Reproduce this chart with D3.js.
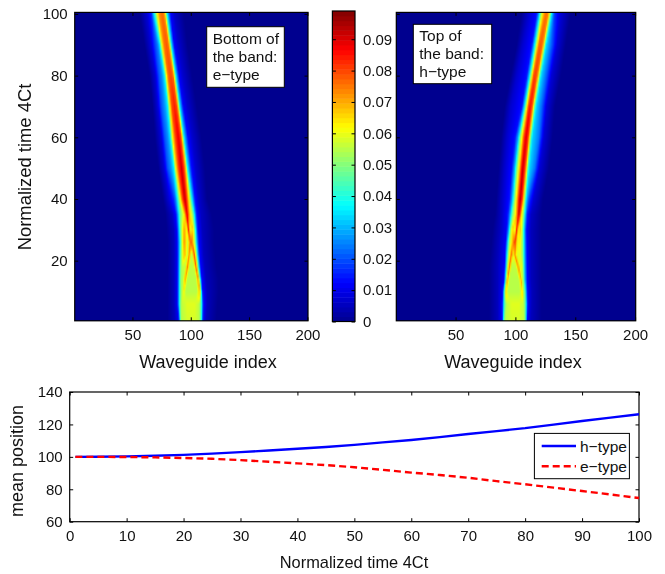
<!DOCTYPE html>
<html>
<head>
<meta charset="utf-8">
<script src="https://cdn.jsdelivr.net/npm/d3@7"></script>
<style>
  body { margin: 0; background: #fff; }
  #chart { position: relative; width: 665px; height: 574px; overflow: hidden; }
  #chart canvas, #chart svg { position: absolute; left: 0; top: 0; }
  text { font-family: "Liberation Sans", Arial, sans-serif; fill: #111; }
  .axis text { font-size: 15px; }
  .axis path { display: none; }
  .axis line { stroke: #000; }
  .box { fill: none; stroke: #000; stroke-width: 1.2; }
  .label { font-size: 18px; }
  .note { font-size: 15.5px; }
</style>
</head>
<body>
<div id="chart"></div>
<script>
// rows of the heat maps: for each time the same 16 features
// across the beam (index = where the feature sits, value = colour value there)
var rowTimes = [1, 6, 10, 14, 18, 22, 26, 30, 35, 40, 50, 60, 70, 80, 90, 100];

var eIndex = [
  [80, 86, 89.5, 90.3, 91, 91.6, 92, 92.5, 97, 103, 107, 108.6, 109.5, 110.4, 113, 122],
  [80, 85.5, 88.4, 89.6, 90.7, 91.5, 92, 92.7, 97, 103, 106.8, 108.6, 109.6, 110.7, 114, 123],
  [80, 85.5, 88.4, 89.6, 90.8, 92, 92.6, 93.7, 95.6, 105.2, 107.5, 108.5, 109.2, 110.2, 114, 124],
  [80, 85.5, 88.4, 89.7, 91, 92, 93, 95, 96.9, 104.4, 106.4, 107.5, 108.3, 109.4, 113, 124],
  [80, 85.5, 88.4, 89.8, 91.2, 92.5, 95, 97, 99, 102.5, 104.5, 106, 107.1, 108.3, 112, 122],
  [80, 85.5, 88.4, 89.9, 91.4, 94.6, 96.8, 98.6, 100.3, 101, 102.8, 104.8, 106, 107.4, 111, 121],
  [80, 85.5, 88.2, 90, 91.6, 94.2, 97, 99.6, 100, 100.3, 100.8, 103.7, 105.1, 106.8, 110.5, 120],
  [79, 85, 87.9, 89.6, 91.3, 94.3, 96.4, 98, 99.4, 100.2, 101.4, 103.1, 104.5, 106, 110, 120],
  [78, 84, 87.2, 89, 90.8, 93.7, 95, 96.6, 97.8, 98.6, 99.4, 101.8, 103.4, 105, 108.5, 118],
  [76, 81, 85, 86.8, 88.2, 91, 92.8, 94.8, 96.6, 97.5, 98.4, 100, 101.3, 103.5, 106.5, 114],
  [72, 77, 80, 83, 85.1, 87.2, 89.2, 92, 94.2, 95, 95.7, 96.5, 97.4, 100.3, 104, 112],
  [69, 74.5, 77.3, 80.3, 82.2, 84.3, 86.6, 89.2, 91.3, 92, 92.6, 93.5, 94.3, 97.4, 101, 109],
  [67, 71.5, 74.5, 77.5, 80, 81.8, 83.5, 86, 88, 88.6, 89.1, 89.9, 90.7, 93.4, 97, 105],
  [64.5, 69.5, 72.5, 75, 77.1, 79.1, 80.6, 82.6, 84.6, 85.1, 85.6, 86.5, 87.3, 89.8, 93, 101],
  [60, 65.7, 68.9, 71.2, 73, 75.2, 76.9, 79, 80.7, 81.2, 81.7, 82.6, 83.4, 85.7, 89, 97],
  [56, 62.5, 66, 67.7, 69.4, 71, 72.9, 75.4, 77, 77.5, 78, 79, 80, 82.3, 86, 94]
];
var eValue = [
  [0, .005, .012, .03, .045, .055, .055, .055, .058, .058, .055, .045, .03, .012, .005, 0],
  [0, .005, .012, .03, .045, .055, .055, .056, .059, .059, .056, .046, .03, .013, .005, 0],
  [0, .005, .012, .03, .045, .054, .055, .062, .055, .055, .068, .05, .03, .013, .005, 0],
  [0, .005, .012, .03, .048, .054, .054, .07, .055, .055, .074, .05, .03, .013, .005, 0],
  [0, .005, .012, .03, .05, .056, .056, .074, .055, .056, .078, .05, .03, .013, .005, 0],
  [0, .005, .012, .03, .05, .07, .056, .074, .056, .057, .08, .05, .03, .013, .005, 0],
  [0, .005, .012, .03, .05, .073, .058, .076, .078, .078, .076, .05, .03, .013, .005, 0],
  [0, .005, .012, .03, .05, .072, .06, .084, .06, .06, .069, .05, .03, .013, .005, 0],
  [0, .006, .014, .03, .048, .06, .072, .09, .078, .07, .064, .05, .03, .014, .006, 0],
  [0, .008, .016, .024, .036, .064, .08, .093, .08, .07, .062, .045, .032, .014, .007, 0],
  [0, .008, .02, .027, .035, .064, .08, .092, .08, .072, .064, .045, .035, .014, .007, 0],
  [0, .008, .02, .027, .035, .064, .08, .089, .08, .072, .064, .045, .033, .013, .007, 0],
  [0, .008, .02, .027, .036, .062, .079, .084, .079, .07, .062, .045, .033, .012, .007, 0],
  [0, .008, .02, .026, .035, .064, .077, .08, .077, .07, .064, .045, .033, .012, .007, 0],
  [0, .008, .018, .024, .034, .064, .075, .078, .075, .07, .062, .045, .033, .012, .007, 0],
  [0, .008, .016, .03, .045, .062, .073, .077, .073, .068, .06, .045, .033, .013, .006, 0]
];

var hIndex = [
  [78, 85, 88.9, 89.7, 90.4, 91.5, 97, 103, 107, 107.3, 107.6, 108.3, 109, 110, 113, 122],
  [78, 85, 88.8, 90, 91, 92.5, 97, 103, 106.5, 107, 107.5, 108.3, 109.2, 110.4, 113.5, 122],
  [78, 85, 89.2, 90.2, 90.9, 91.8, 93.8, 103.8, 105.8, 106.4, 107, 107.8, 108.8, 110.2, 113.5, 122],
  [78, 85, 90.3, 91.4, 92.2, 93.2, 95.2, 102.7, 104.7, 105.5, 106.2, 106.8, 108, 109.9, 113, 122],
  [78, 85, 90.8, 92, 93, 94.8, 96.8, 100.5, 102.5, 103.8, 105, 106.4, 107.8, 109.7, 113, 122],
  [79, 85.5, 91.2, 92.6, 93.8, 96.9, 97.7, 98.2, 99.4, 101.4, 103.9, 106.2, 107.7, 109.5, 113, 122],
  [80, 86, 91.8, 93.2, 94.6, 97.8, 98.6, 99.2, 99.8, 101.8, 103.4, 106.1, 107.6, 109.4, 113, 122],
  [81, 87, 92.6, 94.4, 95.8, 97.6, 98.8, 99.8, 101.1, 102.5, 103.9, 106.1, 107.5, 109.2, 113, 122],
  [83, 88.5, 93.6, 95.8, 97.3, 99.6, 101, 101.9, 102.8, 104.2, 105.3, 107, 108.3, 109.7, 113, 122],
  [84, 89.5, 95, 97.4, 99, 100.8, 102.4, 103.2, 104, 105.8, 107, 108.2, 109.2, 111.5, 115, 123],
  [86, 91, 97, 99.4, 101, 103, 104.6, 105.4, 106.3, 108.1, 109.3, 110.3, 111.8, 116, 120, 128],
  [88, 93, 99.7, 102.3, 103.7, 105.5, 107.1, 108, 108.9, 110.7, 111.8, 112.8, 114.3, 119.5, 123.5, 131],
  [91, 96, 105.4, 107.4, 108.4, 109.6, 110.8, 111.5, 112.3, 113.9, 115, 116.2, 117.6, 122, 126, 133],
  [96, 101, 109.4, 111.6, 112.6, 113.8, 115, 115.8, 116.5, 118, 119.2, 120.3, 121.6, 126, 130, 138],
  [101, 106, 113.6, 115.8, 116.9, 118.1, 119.3, 120.2, 121, 122.7, 123.8, 124.8, 126, 130.6, 134.6, 142],
  [105, 111, 117.8, 120, 121, 122.3, 124.2, 125.1, 126, 127.5, 128.4, 129.4, 130.3, 132.5, 137.5, 146]
];
var hValue = [
  [0, .005, .012, .03, .045, .055, .058, .058, .055, .054, .052, .045, .03, .012, .005, 0],
  [0, .005, .012, .03, .045, .055, .059, .059, .056, .054, .05, .045, .03, .012, .005, 0],
  [0, .005, .012, .03, .045, .066, .055, .055, .066, .056, .052, .048, .03, .013, .005, 0],
  [0, .005, .012, .03, .05, .072, .055, .055, .07, .058, .054, .05, .03, .013, .005, 0],
  [0, .005, .012, .03, .05, .076, .055, .056, .074, .058, .06, .052, .03, .013, .005, 0],
  [0, .005, .012, .03, .05, .078, .06, .06, .074, .058, .06, .05, .03, .013, .005, 0],
  [0, .005, .012, .03, .05, .07, .078, .08, .08, .06, .064, .05, .03, .013, .005, 0],
  [0, .005, .012, .03, .05, .068, .06, .062, .086, .06, .068, .05, .03, .013, .005, 0],
  [0, .006, .014, .03, .048, .06, .072, .082, .092, .076, .062, .048, .03, .016, .006, 0],
  [0, .007, .014, .03, .048, .064, .08, .088, .094, .08, .064, .046, .032, .018, .008, 0],
  [0, .007, .014, .03, .048, .064, .08, .087, .092, .08, .064, .045, .033, .024, .008, 0],
  [0, .007, .014, .03, .048, .064, .08, .086, .09, .08, .064, .045, .033, .024, .008, 0],
  [0, .007, .014, .033, .048, .064, .079, .083, .086, .079, .064, .045, .033, .022, .008, 0],
  [0, .007, .014, .033, .047, .064, .077, .08, .081, .077, .064, .045, .033, .021, .008, 0],
  [0, .007, .014, .033, .047, .062, .075, .077, .078, .075, .062, .045, .033, .02, .008, 0],
  [0, .007, .014, .034, .048, .062, .073, .075, .076, .072, .06, .046, .034, .018, .008, 0]
];

// mean position curves
var meanTimes = [1, 5, 10, 15, 20, 25, 30, 35, 40, 45, 50, 55, 60, 65, 70, 75, 80, 85, 90, 95, 100];
var hMean = [100, 100.1, 100.3, 100.7, 101.2, 102, 102.9, 103.9, 105, 106.1, 107.4, 108.9, 110.4, 112.2, 114.1, 115.9, 117.7, 119.9, 122.1, 124.2, 126.3];
var eMean = [100, 100, 99.9, 99.7, 99.3, 98.8, 98, 97, 96, 94.9, 93.6, 92, 90.3, 88.8, 87.1, 85, 83.1, 81, 78.9, 76.8, 74.6];

var heatTicksX = [50, 100, 150, 200];
var heatTicksY = [20, 40, 60, 80, 100];
var colorTicks = [0, 0.01, 0.02, 0.03, 0.04, 0.05, 0.06, 0.07, 0.08, 0.09];
var meanTicksX = [0, 10, 20, 30, 40, 50, 60, 70, 80, 90, 100];
var meanTicksY = [60, 80, 100, 120, 140];

var maxValue = 0.099;
var jetStops = [0, 0.125, 0.375, 0.625, 0.875, 1];
var jetColors = ["#00008f", "#0000ff", "#00ffff", "#ffff00", "#ff0000", "#800000"];

var jet = d3.scaleLinear()
  .domain(jetStops.map(function(d){ return d * maxValue; }))
  .range(jetColors)
  .clamp(true);

var chart = d3.select("#chart");
var svg = chart.append("svg").attr("width", 665).attr("height", 574);

// the value of one heat map row, taken between the two nearest rows that were read
function rowValues(t, index, value) {
  var i = Math.min(d3.bisectRight(rowTimes, t), rowTimes.length - 1);
  var f = (t - rowTimes[i - 1]) / (rowTimes[i] - rowTimes[i - 1]);
  var pos = index[i].map(function(d, k){ return index[i - 1][k] + (d - index[i - 1][k]) * f; });
  var val = value[i].map(function(d, k){ return value[i - 1][k] + (d - value[i - 1][k]) * f; });
  return d3.scaleLinear().domain(pos).range(val).clamp(true);
}

function drawHeat(left, right, index, value, note, noteBox, labelX, showY) {
  var top = 12.4, bottom = 320.8;
  var x = d3.scaleLinear().domain([0.5, 200.5]).range([left, right]);
  var y = d3.scaleLinear().domain([0.5, 100.5]).range([bottom, top]);

  var canvas = chart.insert("canvas", "svg")
    .attr("width", 200)
    .attr("height", 100)
    .style("left", left + "px")
    .style("top", top + "px")
    .style("width", (right - left) + "px")
    .style("height", (bottom - top) + "px");
  var context = canvas.node().getContext("2d");

  d3.range(1, 101).forEach(function(t){
    var row = rowValues(t, index, value);
    d3.range(1, 201).forEach(function(w){
      context.fillStyle = jet(row(w));
      context.fillRect(w - 1, 100 - t, 1, 1);
    });
  });

  drawAxes(x, y, heatTicksX, heatTicksY, left, right, top, bottom, showY);

  svg.append("text").attr("class", "label")
    .attr("x", labelX).attr("y", 368)
    .attr("text-anchor", "middle")
    .text("Waveguide index");

  svg.append("rect")
    .attr("x", noteBox[0]).attr("y", noteBox[1])
    .attr("width", noteBox[2]).attr("height", noteBox[3])
    .attr("fill", "#fff").attr("stroke", "#000");
  note.forEach(function(line, i){
    svg.append("text").attr("class", "note")
      .attr("x", noteBox[0] + 6).attr("y", noteBox[1] + 17 + i * 17.9)
      .text(line);
  });
}

function drawAxes(x, y, ticksX, ticksY, left, right, top, bottom, showY) {
  svg.append("g").attr("class", "axis")
    .attr("transform", "translate(0," + bottom + ")")
    .call(d3.axisBottom(x).tickValues(ticksX).tickSize(-3.5).tickPadding(9));
  svg.append("g").attr("class", "axis")
    .attr("transform", "translate(0," + top + ")")
    .call(d3.axisTop(x).tickValues(ticksX).tickSize(-3.5).tickFormat(""));
  var yAxis = d3.axisLeft(y).tickValues(ticksY).tickSize(-3.5).tickPadding(7);
  if (!showY) yAxis.tickFormat("");
  svg.append("g").attr("class", "axis")
    .attr("transform", "translate(" + left + ",0)")
    .call(yAxis);
  svg.append("g").attr("class", "axis")
    .attr("transform", "translate(" + right + ",0)")
    .call(d3.axisRight(y).tickValues(ticksY).tickSize(-3.5).tickFormat(""));
  svg.append("rect").attr("class", "box")
    .attr("x", left).attr("y", top)
    .attr("width", right - left).attr("height", bottom - top);
}

drawHeat(74.7, 308, eIndex, eValue, ["Bottom of", "the band:", "e\u2212type"], [206.7, 26.7, 77.6, 60.6], 208, true);
drawHeat(396.3, 635.7, hIndex, hValue, ["Top of", "the band:", "h\u2212type"], [413.3, 24.3, 78.4, 59.4], 513, false);

svg.append("text").attr("class", "label")
  .attr("transform", "translate(31,167) rotate(-90)")
  .attr("text-anchor", "middle")
  .style("font-size", "18.4px")
  .text("Normalized time 4Ct");

// colour bar, 64 bands like the jet map
var barY = d3.scaleLinear().domain([0, maxValue]).range([321.5, 11]);
var bands = d3.range(64);
var barLeft = 332.4, barRight = 355;

svg.selectAll("rect.band")
  .data(bands)
  .enter().append("rect")
    .attr("class", "band")
    .attr("x", barLeft)
    .attr("width", barRight - barLeft)
    .attr("y", function(d){ return barY((d + 1) / 64 * maxValue); })
    .attr("height", function(d){ return barY(d / 64 * maxValue) - barY((d + 1) / 64 * maxValue) + 0.5; })
    .attr("fill", function(d){ return jet((d + 0.5) / 64 * maxValue); });

svg.append("g").attr("class", "axis")
  .attr("transform", "translate(" + barRight + ",0)")
  .call(d3.axisRight(barY).tickValues(colorTicks).tickSize(-3.5).tickPadding(8).tickFormat(function(d){ return d === 0 ? "0" : d3.format(".2f")(d); }));
svg.append("g").attr("class", "axis")
  .attr("transform", "translate(" + barLeft + ",0)")
  .call(d3.axisLeft(barY).tickValues(colorTicks).tickSize(-3.5).tickFormat(""));
svg.append("rect").attr("class", "box")
  .attr("x", barLeft).attr("y", 11)
  .attr("width", barRight - barLeft).attr("height", 310.5);

// mean position plot
var meanLeft = 69.7, meanRight = 639, meanTop = 392, meanBottom = 521.7;
var mx = d3.scaleLinear().domain([0, 100]).range([meanLeft, meanRight]);
var my = d3.scaleLinear().domain([60, 140]).range([meanBottom, meanTop]);

drawAxes(mx, my, meanTicksX, meanTicksY, meanLeft, meanRight, meanTop, meanBottom, true);

var line = d3.line()
  .x(function(d, i){ return mx(meanTimes[i]); })
  .y(function(d){ return my(d); });

svg.append("path").datum(hMean)
  .attr("d", line)
  .attr("fill", "none").attr("stroke", "#0000ff").attr("stroke-width", 2.4);
svg.append("path").datum(eMean)
  .attr("d", line)
  .attr("fill", "none").attr("stroke", "#ff0000").attr("stroke-width", 2.4)
  .attr("stroke-dasharray", "7,4");

svg.append("text").attr("class", "label")
  .attr("x", 354).attr("y", 568)
  .attr("text-anchor", "middle")
  .style("font-size", "16.4px")
  .text("Normalized time 4Ct");
svg.append("text").attr("class", "label")
  .attr("transform", "translate(23,461) rotate(-90)")
  .attr("text-anchor", "middle")
  .text("mean position");

// legend
var legend = svg.append("g");
legend.append("rect")
  .attr("x", 534.4).attr("y", 433.4)
  .attr("width", 95).attr("height", 45.3)
  .attr("fill", "#fff").attr("stroke", "#000");
legend.append("line")
  .attr("x1", 541.7).attr("x2", 576).attr("y1", 446).attr("y2", 446)
  .attr("stroke", "#0000ff").attr("stroke-width", 2.4);
legend.append("line")
  .attr("x1", 541.7).attr("x2", 576).attr("y1", 466.3).attr("y2", 466.3)
  .attr("stroke", "#ff0000").attr("stroke-width", 2.4)
  .attr("stroke-dasharray", "7,4");
legend.append("text").attr("class", "note")
  .attr("x", 580).attr("y", 452).text("h\u2212type");
legend.append("text").attr("class", "note")
  .attr("x", 580).attr("y", 472).text("e\u2212type");
</script>
</body>
</html>
